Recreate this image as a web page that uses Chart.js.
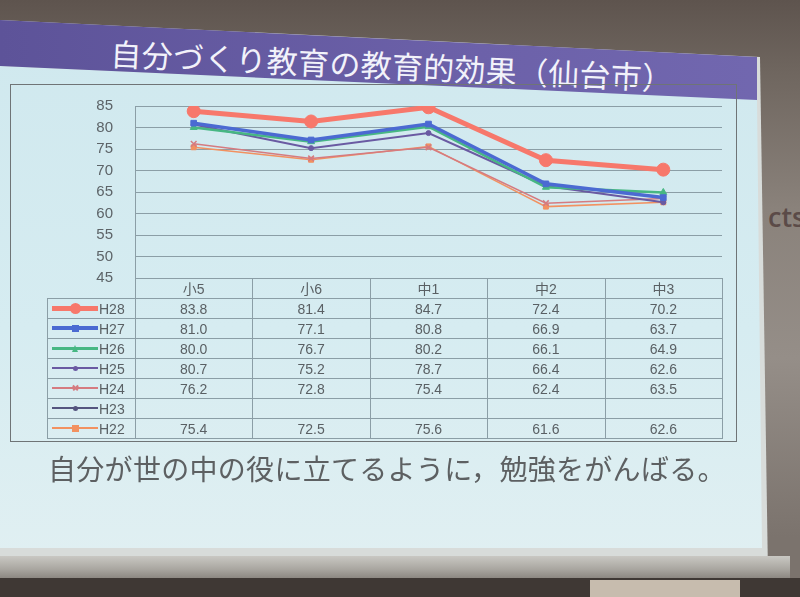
<!DOCTYPE html>
<html lang="ja">
<head>
<meta charset="utf-8">
<script src="https://cdn.jsdelivr.net/npm/chart.js@4.4.1/dist/chart.umd.min.js"></script>
<style>
html,body{margin:0;padding:0;width:800px;height:597px;overflow:hidden;}
body{position:relative;background:#7c736c;font-family:"Noto Sans CJK JP","Noto Sans",sans-serif;}
.abs{position:absolute;}
#wall{left:0;top:0;width:800px;height:597px;background:linear-gradient(180deg,#5e544e 0%,#6f665f 12%,#8a827b 35%,#958e88 60%,#7b736d 90%);}
#cts{left:768px;top:198px;font:600 27px "Open Sans",sans-serif;color:#5b4b48;}
#screen{left:0;top:0;width:800px;height:597px;background:#d8dcda;clip-path:polygon(0 20px,760px 57px,768px 575px,0 575px);}
#bar{left:0;top:556px;width:790px;height:22px;background:linear-gradient(180deg,#c9c8c3,#a9a6a0 60%,#8d8882);}
#floor{left:0;top:578px;width:800px;height:19px;background:#3f3834;}
#box{left:590px;top:580px;width:150px;height:17px;background:#c7bcae;}
#slide{left:0;top:0;width:800px;height:597px;background:linear-gradient(180deg,#cfe8ee 0%,#d6ecf1 55%,#e2f0f2 100%);clip-path:polygon(0 66px,757px 99px,762px 548px,0 548px);}
#banner{left:0;top:0;width:800px;height:597px;background:linear-gradient(90deg,#5d5399,#6c61a9 60%,#7268b0);clip-path:polygon(0 20px,757px 57px,757px 100px,0 66px);}
#title{left:0;top:45px;width:784px;text-align:center;color:#f2f2fa;font-size:31px;line-height:40px;letter-spacing:0.3px;transform:rotate(2.5deg);transform-origin:392px 20px;white-space:nowrap;}
#frame{left:10px;top:84px;width:727px;height:358px;border:1px solid #6f7476;box-sizing:border-box;}
#chartBox{left:10px;top:84px;}
#caption{left:48px;top:450px;font-size:28px;line-height:36px;color:#5d6062;white-space:nowrap;letter-spacing:0.3px;}
.cell{position:absolute;text-align:center;color:#5a6064;font:14px "Liberation Sans","Noto Sans CJK JP",sans-serif;line-height:20px;height:20px;}
.hl{position:absolute;height:1px;background:#8b9ea6;}
.vl{position:absolute;width:1px;background:#8b9ea6;}
.key{position:absolute;}
</style>
</head>
<body>
<div id="wall" class="abs"></div>
<div id="cts" class="abs">cts</div>
<div id="screen" class="abs"></div>
<div id="bar" class="abs"></div>
<div id="floor" class="abs"></div>
<div id="box" class="abs"></div>
<div id="slide" class="abs"></div>
<div id="banner" class="abs"></div>
<div id="title" class="abs">自分づくり教育の教育的効果（仙台市）</div>
<div id="frame" class="abs"></div>
<div id="chartBox" class="abs"><canvas id="c" width="727" height="358"></canvas></div>
<div id="table" class="abs" style="left:0;top:0;"></div>
<div id="caption" class="abs">自分が世の中の役に立てるように，勉強をがんばる。</div>
<script>
const categories = ['小5', '小6', '中1', '中2', '中3'];
const seriesNames = ['H28', 'H27', 'H26', 'H25', 'H24', 'H23', 'H22'];
const h28 = [83.8, 81.4, 84.7, 72.4, 70.2];
const h27 = [81.0, 77.1, 80.8, 66.9, 63.7];
const h26 = [80.0, 76.7, 80.2, 66.1, 64.9];
const h25 = [80.7, 75.2, 78.7, 66.4, 62.6];
const h24 = [76.2, 72.8, 75.4, 62.4, 63.5];
const h23 = [null, null, null, null, null];
const h22 = [75.4, 72.5, 75.6, 61.6, 62.6];
const yTicks = [45, 50, 55, 60, 65, 70, 75, 80, 85];

// ---- styles (kept apart from data) ----
const seriesValues = [h28, h27, h26, h25, h24, h23, h22];
const seriesStyles = [
  {color:'#f7786b', width:5,   point:'circle',   r:6.5, key:'circle', ks:11},
  {color:'#4b6ad2', width:3.5, point:'rect',     r:4,   key:'square', ks:7},
  {color:'#47b783', width:2.5, point:'triangle', r:4,   key:'tri',    ks:7},
  {color:'#6a5aa2', width:2,   point:'circle',   r:2.5, key:'circle', ks:5},
  {color:'#d57b80', width:1.5, point:'crossRot', r:4,   key:'cross',  ks:7},
  {color:'#55557f', width:1.5, point:'circle',   r:2.5, key:'circle', ks:5},
  {color:'#f29160', width:1.5, point:'rect',     r:3.5, key:'square', ks:7}
];

const GRID = '#8b9ea6';
const OFFX = 10, OFFY = 84;

const datasets = seriesNames.map((name, i) => {
  const s = seriesStyles[i];
  return {
    label: name,
    data: seriesValues[i],
    borderColor: s.color,
    backgroundColor: s.color,
    borderWidth: s.width,
    pointStyle: s.point,
    pointRadius: s.r,
    pointBorderWidth: s.point === 'crossRot' ? 1.5 : 1,
    pointBorderColor: s.color,
    pointBackgroundColor: s.color,
    tension: 0,
    spanGaps: false
  };
});

const chart = new Chart(document.getElementById('c'), {
  type: 'line',
  data: { labels: categories, datasets },
  options: {
    responsive: false,
    animation: false,
    layout: { padding: { left: 0, right: 15, top: 22, bottom: 164 } },
    plugins: { legend: { display: false }, tooltip: { enabled: false } },
    scales: {
      x: { type: 'category', display: false, offset: true },
      y: {
        min: 45, max: 85,
        afterBuildTicks: s => { s.ticks = yTicks.map(v => ({ value: v })); },
        afterFit: s => { s.width = 125; s.paddingTop = 0; s.paddingBottom = 0; },
        ticks: { padding: 22, color: '#5d6468', font: { family: 'Liberation Sans', size: 15 } },
        grid: { color: GRID, lineWidth: 1, drawTicks: false },
        border: { display: true, color: GRID, width: 1 }
      }
    }
  }
});

// ---- data table aligned to the chart's category scale ----
(function buildTable() {
  const t = document.getElementById('table');
  const ca = chart.chartArea;
  const xs = chart.scales.x;
  const left = Math.round(ca.left + OFFX), right = Math.round(ca.right + OFFX), top = Math.round(ca.bottom + OFFY);
  const rowH = 20, legL = 47;
  const bw = (right - left) / categories.length;
  const nRows = seriesNames.length + 1;
  const bottom = top + nRows * rowH;
  let html = '';
  html += `<div class="hl" style="left:${left}px;top:${top}px;width:${right-left+1}px"></div>`;
  for (let r = 1; r <= nRows; r++) {
    html += `<div class="hl" style="left:${legL}px;top:${top + r*rowH}px;width:${right-legL+1}px"></div>`;
  }
  html += `<div class="vl" style="left:${legL}px;top:${top+rowH}px;height:${bottom-top-rowH}px"></div>`;
  for (let c = 0; c <= categories.length; c++) {
    html += `<div class="vl" style="left:${Math.round(left + c*bw)}px;top:${top}px;height:${bottom-top}px"></div>`;
  }
  categories.forEach((cat, c) => {
    const cx = xs.getPixelForValue(c) + OFFX;
    html += `<div class="cell" style="left:${cx-50}px;top:${top+1}px;width:100px">${cat}</div>`;
  });
  seriesNames.forEach((name, r) => {
    const y = top + (r+1)*rowH;
    const s = seriesStyles[r];
    const midY = y + rowH/2;
    const lw = Math.max(1, Math.round(s.width));
    html += `<div class="key" style="left:52px;top:${midY - lw/2}px;width:46px;height:${lw}px;background:${s.color}"></div>`;
    const k = s.ks, kx = 75;
    if (s.key === 'circle') {
      html += `<div class="key" style="left:${kx-k/2}px;top:${midY-k/2}px;width:${k}px;height:${k}px;border-radius:50%;background:${s.color}"></div>`;
    } else if (s.key === 'square') {
      html += `<div class="key" style="left:${kx-k/2}px;top:${midY-k/2}px;width:${k}px;height:${k}px;background:${s.color}"></div>`;
    } else if (s.key === 'tri') {
      html += `<div class="key" style="left:${kx-k/2}px;top:${midY-k/2}px;width:0;height:0;border-left:${k/2}px solid transparent;border-right:${k/2}px solid transparent;border-bottom:${k}px solid ${s.color}"></div>`;
    } else if (s.key === 'cross') {
      html += `<div class="key" style="left:${kx-k/2}px;top:${midY-0.75}px;width:${k}px;height:1.5px;background:${s.color};transform:rotate(45deg)"></div>`;
      html += `<div class="key" style="left:${kx-k/2}px;top:${midY-0.75}px;width:${k}px;height:1.5px;background:${s.color};transform:rotate(-45deg)"></div>`;
    }
    html += `<div class="cell" style="left:99px;top:${y+1}px;width:34px;text-align:left">${name}</div>`;
    seriesValues[r].forEach((v, c) => {
      if (v === null) return;
      const cx = xs.getPixelForValue(c) + OFFX;
      html += `<div class="cell" style="left:${cx-50}px;top:${y+1}px;width:100px">${v.toFixed(1)}</div>`;
    });
  });
  t.innerHTML = html;
})();
</script>
</body>
</html>
